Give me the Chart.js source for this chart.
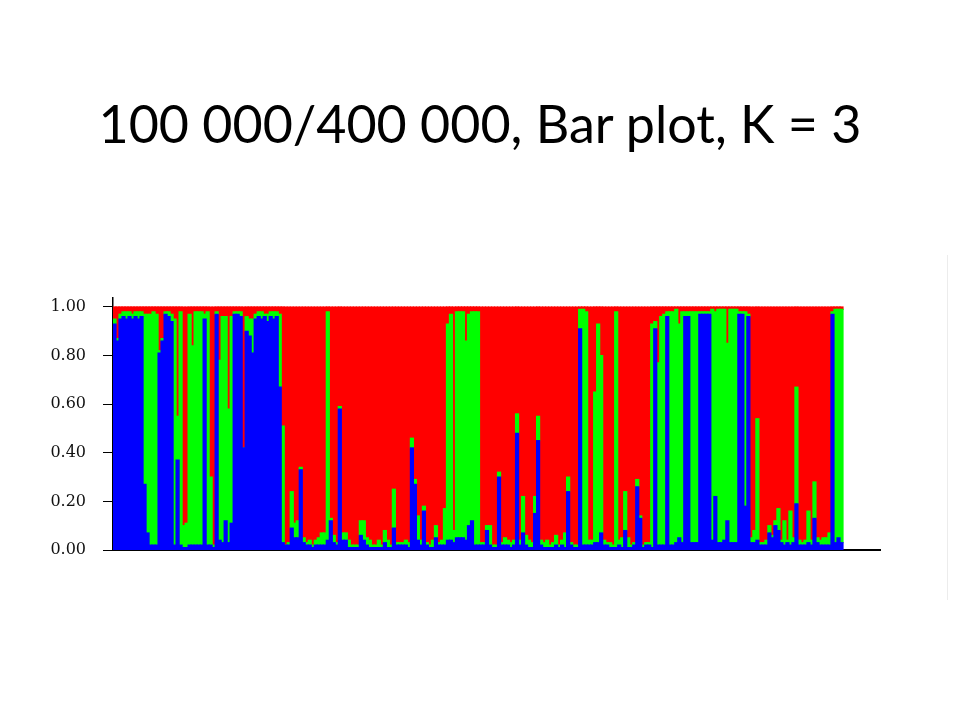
<!DOCTYPE html>
<html><head><meta charset="utf-8">
<script src="https://cdn.jsdelivr.net/npm/chart.js@4.4.1/dist/chart.umd.min.js"></script>
<style>
html,body{margin:0;padding:0;background:#fff;width:960px;height:720px;overflow:hidden}
#title{position:absolute;left:0;top:97px;width:960px;text-align:center;font-family:Lato,sans-serif;font-size:52px;line-height:1;color:#000;white-space:nowrap}
#wrap{position:absolute;left:0;top:0;width:960px;height:720px}
#edge{position:absolute;left:947px;top:255px;width:1px;height:345px;background:#ececec}
</style></head><body>
<div id="title">100 000/400 000, Bar plot, K = 3</div>
<div id="edge"></div>
<div id="wrap"><canvas id="c" width="960" height="720"></canvas></div>
<script>
// Cluster membership per individual (K = 3): blue, green, red
const blue = [
.93,.86,.95,.96,.95,.96,.95,.96,.95,.96,
.27,.07,.02,.02,.02,.81,.86,.97,.96,.94,
.02,.37,.02,.01,.01,.02,.02,.02,.02,.02,
.95,.02,.02,.01,.97,.04,.03,.12,.03,.11,
.97,.97,.96,.42,.90,.88,.81,.95,.96,.95,
.96,.94,.96,.95,.96,.67,.03,.02,.02,.09,
.05,.05,.33,.03,.02,.02,.01,.02,.02,.02,
.02,.04,.12,.03,.02,.58,.04,.04,.01,.01,
.01,.01,.06,.04,.02,.01,.01,.01,.01,.01,
.03,.01,.01,.09,.02,.02,.02,.02,.01,.42,
.27,.04,.02,.16,.02,.01,.01,.05,.02,.02,
.02,.04,.04,.03,.05,.05,.05,.04,.10,.12,
.02,.02,.02,.02,.08,.02,.01,.01,.30,.02,
.02,.02,.01,.02,.48,.02,.07,.02,.01,.01,
.15,.45,.02,.01,.01,.01,.01,.02,.01,.02,
.01,.24,.02,.01,.01,.91,.02,.02,.02,.02,
.03,.03,.07,.02,.02,.01,.01,.01,.02,.01,
.08,.01,.01,.02,.26,.13,.01,.02,.02,.01,
.91,.02,.02,.02,.96,.02,.02,.03,.05,.03,
.96,.96,.03,.03,.03,.97,.97,.97,.97,.04,
.22,.03,.03,.04,.12,.03,.03,.03,.97,.97,
.18,.96,.03,.03,.04,.02,.02,.02,.07,.05,
.10,.08,.03,.02,.03,.02,.03,.19,.02,.02,
.02,.03,.02,.13,.03,.02,.02,.02,.02,.97,
.03,.05,.03
];
const green = [
.02,.01,.02,.02,.03,.02,.02,.02,.03,.02,
.70,.90,.95,.96,.95,.01,.01,.01,.02,.03,
.93,.18,.96,.09,.10,.95,.82,.96,.96,.96,
.02,.96,.28,.01,.01,.74,.93,.84,.55,.85,
.01,.01,.02,.00,.06,.07,.14,.02,.02,.03,
.01,.03,.02,.03,.02,.30,.48,.00,.01,.15,
.06,.07,.01,.02,.01,.02,.01,.02,.03,.05,
.05,.94,.01,.03,.01,.01,.03,.03,.03,.01,
.01,.01,.06,.08,.03,.03,.01,.01,.03,.01,
.05,.03,.01,.16,.01,.01,.01,.02,.02,.04,
.02,.10,.02,.02,.01,.01,.03,.05,.01,.02,
.15,.89,.93,.05,.93,.93,.93,.82,.87,.86,
.96,.96,.01,.01,.02,.08,.01,.01,.02,.01,
.03,.02,.02,.02,.08,.02,.15,.04,.03,.02,
.07,.10,.02,.02,.03,.01,.02,.04,.01,.02,
.06,.06,.01,.01,.01,.08,.97,.96,.02,.02,
.62,.90,.73,.02,.01,.02,.01,.97,.02,.04,
.16,.04,.01,.01,.03,.01,.01,.01,.01,.92,
.03,.75,.94,.95,.02,.96,.96,.96,.88,.95,
.02,.02,.95,.95,.95,.01,.01,.01,.01,.95,
.76,.96,.96,.95,.73,.96,.96,.96,.01,.01,
.80,.01,.02,.05,.50,.01,.01,.02,.03,.01,
.02,.09,.01,.10,.01,.14,.02,.48,.02,.01,
.02,.13,.02,.15,.02,.02,.03,.03,.05,.01,
.96,.94,.96
];
const red = [
.05,.13,.03,.02,.02,.02,.03,.02,.02,.02,
.03,.03,.03,.02,.03,.18,.13,.02,.02,.03,
.05,.45,.02,.90,.89,.03,.16,.02,.02,.02,
.03,.02,.70,.98,.02,.22,.04,.04,.42,.04,
.02,.02,.02,.58,.04,.05,.05,.03,.02,.02,
.03,.03,.02,.02,.02,.03,.49,.98,.97,.76,
.89,.88,.66,.95,.97,.96,.98,.96,.95,.93,
.93,.02,.87,.94,.97,.41,.93,.93,.96,.98,
.98,.98,.88,.88,.95,.96,.98,.98,.96,.98,
.92,.96,.98,.75,.97,.97,.97,.96,.97,.54,
.71,.86,.96,.82,.97,.98,.96,.90,.97,.96,
.83,.07,.03,.92,.02,.02,.02,.14,.03,.02,
.02,.02,.97,.97,.90,.90,.98,.98,.68,.97,
.95,.96,.97,.96,.44,.96,.78,.94,.96,.97,
.78,.45,.96,.97,.96,.98,.97,.94,.98,.96,
.93,.70,.97,.98,.98,.01,.01,.02,.96,.96,
.35,.07,.20,.96,.97,.97,.98,.02,.96,.95,
.76,.95,.98,.97,.71,.86,.98,.97,.97,.07,
.06,.23,.04,.03,.02,.02,.02,.01,.07,.02,
.02,.02,.02,.02,.02,.02,.02,.02,.02,.01,
.02,.01,.01,.01,.15,.01,.01,.01,.02,.02,
.02,.03,.95,.92,.46,.97,.97,.96,.90,.94,
.88,.83,.96,.88,.96,.84,.95,.33,.96,.97,
.96,.84,.96,.72,.95,.96,.95,.95,.93,.02,
.01,.01,.01
];
const yTicks = [0, 0.2, 0.4, 0.6, 0.8, 1.0];
const tickLabels = ['0.00','0.20','0.40','0.60','0.80','1.00'];

const toPts = arr => arr.map((v, i) => ({x: i, y: v}));
const n = blue.length;

new Chart(document.getElementById('c'), {
  type: 'bar',
  data: {
    datasets: [
      {label: 'Cluster 1', data: toPts(blue), backgroundColor: '#0000ff'},
      {label: 'Cluster 2', data: toPts(green), backgroundColor: '#00ff00'},
      {label: 'Cluster 3', data: toPts(red), backgroundColor: '#ff0000'}
    ]
  },
  options: {
    responsive: false,
    animation: false,
    devicePixelRatio: 1,
    datasets: {bar: {categoryPercentage: 1, barPercentage: 1, borderWidth: 0, borderSkipped: false, inflateAmount: 0.6}},
    layout: {padding: {left: 0, top: 298, right: 80, bottom: 170}},
    plugins: {legend: {display: false}, tooltip: {enabled: false}, title: {display: false}},
    scales: {
      x: {
        type: 'linear',
        stacked: true,
        min: -0.5,
        max: -0.5 + n * (767 / 730),
        offset: false,
        grid: {display: false},
        ticks: {display: false},
        border: {display: true, color: '#000', width: 2},
        afterFit: s => { s.height = 0; }
      },
      y: {
        stacked: true,
        min: 0,
        max: 1.037,
        afterBuildTicks: s => { s.ticks = yTicks.map(v => ({value: v})); },
        afterFit: s => { s.width = 113; },
        grid: {drawOnChartArea: false, drawTicks: true, tickLength: 10, color: '#000', lineWidth: 1},
        border: {display: true, color: '#000', width: 1.5},
        ticks: {
          padding: 17,
          color: '#111',
          font: {family: 'DejaVu Serif', size: 16},
          callback: (v, i) => tickLabels[yTicks.indexOf(v)] ?? ''
        }
      }
    }
  }
});
</script>
</body></html>
